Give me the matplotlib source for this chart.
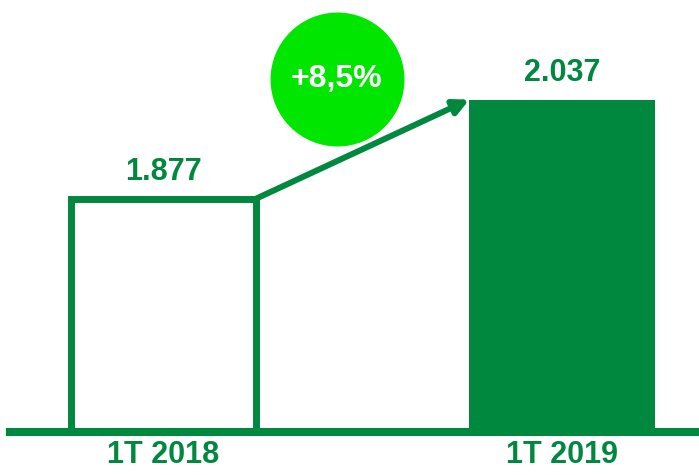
import matplotlib.pyplot as plt

# chart data
periods = ["1T 2018", "1T 2019"]
values = [1877, 2037]
value_labels = ["1.877", "2.037"]
growth_label = "+8,5%"

dark_green = "#00883F"
light_green = "#00E600"

plt.rcParams["font.family"] = ["Liberation Sans", "DejaVu Sans"]

fig = plt.figure(figsize=(6.99, 4.75), dpi=100)
ax = fig.add_axes([0, (475 - 432) / 475, 1, 432 / 475])

x = [0, 1]
width = 0.465

# 2018 bar: outline only, 2019 bar: filled
ax.bar(x[0], values[0] - 1500, bottom=1500, width=width,
       facecolor="white", edgecolor=dark_green, linewidth=5, zorder=2)
ax.bar(x[1], values[1] - 1500, bottom=1500, width=width,
       color=dark_green, linewidth=0, zorder=2)

# baseline
ax.axhline(1500, xmin=10 / 699, xmax=1, color=dark_green, linewidth=5.8,
           clip_on=False, zorder=3)

# value labels
for xi, v, lab in zip(x, values, value_labels):
    ax.annotate(lab, (xi, v), xytext=(0, 19), textcoords="offset points",
                ha="center", va="center", fontsize=22, fontweight="bold",
                color=dark_green)

# growth arrow between bar tops
ax.annotate("", xy=(x[1] - width / 2, values[1]),
            xytext=(x[0] + width / 2, values[0]),
            arrowprops=dict(arrowstyle="-|>,head_length=0.9,head_width=0.45",
                            color=dark_green, lw=4.3,
                            shrinkA=0, shrinkB=0),
            zorder=4)

# growth bubble
ax.scatter([0.435], [2070], s=9300, color=light_green, linewidths=0, zorder=5)
ax.text(0.435, 2070, growth_label, ha="center", va="center", fontsize=23,
        fontweight="bold", color="white", zorder=6)

ax.set_xlim(-163.5 / 398.5, (699 - 163.5) / 398.5)
ax.set_ylim(1500, 1500 + 432 / 0.619)

ax.set_xticks(x)
ax.set_xticklabels(periods, fontsize=22, fontweight="bold", color=dark_green)
ax.tick_params(axis="x", length=0, pad=6)
ax.set_yticks([])
for s in ax.spines.values():
    s.set_visible(False)

fig.savefig("out.png", dpi=100)
